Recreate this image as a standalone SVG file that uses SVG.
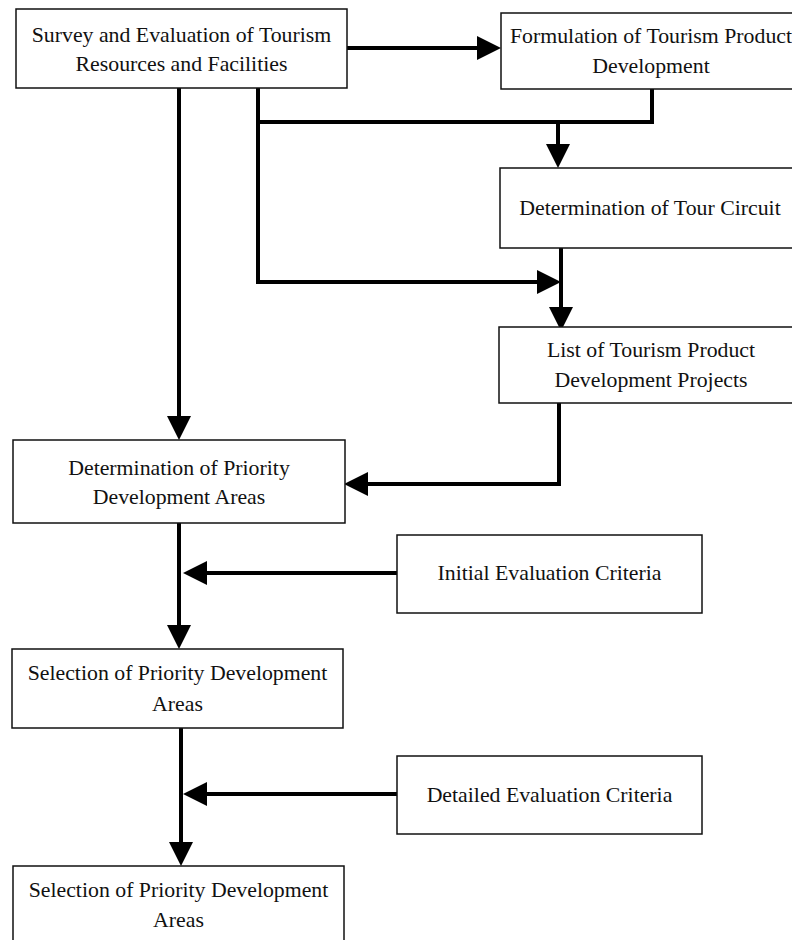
<svg xmlns="http://www.w3.org/2000/svg" width="792" height="940" viewBox="0 0 792 940">
<style>
.box{fill:#fff;stroke:#111;stroke-width:1.5}
.t{font-family:"Liberation Serif","Times New Roman",serif;font-size:21.8px;fill:#111;text-anchor:middle}
.c{fill:none;stroke:#000;stroke-width:4}
.ah{fill:#000}
</style>
<defs>
<marker id="arr" markerUnits="userSpaceOnUse" markerWidth="24" markerHeight="24" refX="0" refY="12" orient="auto" viewBox="0 0 24 24">
<path d="M0,0 L24,12 L0,24 Z" class="ah"/>
</marker>
</defs>
<rect width="792" height="940" fill="#fff"/>
<g id="connectors">
<path class="c" d="M347,48 H477" marker-end="url(#arr)"/>
<path class="c" d="M652,88 V122 H258"/>
<path class="c" d="M558,122 V144" marker-end="url(#arr)"/>
<path class="c" d="M258,88 V282 H537" marker-end="url(#arr)"/>
<path class="c" d="M561,247 V307" marker-end="url(#arr)"/>
<path class="c" d="M179,88 V416" marker-end="url(#arr)"/>
<path class="c" d="M559,403 V484 H368" marker-end="url(#arr)"/>
<path class="c" d="M179,523 V625" marker-end="url(#arr)"/>
<path class="c" d="M397,573 H207" marker-end="url(#arr)"/>
<path class="c" d="M181,728 V842" marker-end="url(#arr)"/>
<path class="c" d="M397,794 H207" marker-end="url(#arr)"/>
</g>
<g id="survey">
<rect class="box" x="16" y="9" width="331" height="79"/>
<text class="t" x="181.5" y="42">Survey and Evaluation of Tourism</text>
<text class="t" x="181.5" y="71">Resources and Facilities</text>
</g>
<g id="formulation">
<rect class="box" x="501" y="13" width="300" height="76"/>
<text class="t" x="651" y="43">Formulation of Tourism Product</text>
<text class="t" x="651" y="73">Development</text>
</g>
<g id="tour-circuit">
<rect class="box" x="500" y="168" width="300" height="80"/>
<text class="t" x="650" y="215">Determination of Tour Circuit</text>
</g>
<g id="projects">
<rect class="box" x="499" y="327" width="300" height="76"/>
<text class="t" x="651" y="357">List of Tourism Product</text>
<text class="t" x="651" y="387">Development Projects</text>
</g>
<g id="determination">
<rect class="box" x="13" y="440" width="332" height="83"/>
<text class="t" x="179" y="475">Determination of Priority</text>
<text class="t" x="179" y="504">Development Areas</text>
</g>
<g id="initial-criteria">
<rect class="box" x="397" y="535" width="305" height="78"/>
<text class="t" x="549.5" y="580">Initial Evaluation Criteria</text>
</g>
<g id="selection1">
<rect class="box" x="12" y="649" width="331" height="79"/>
<text class="t" x="177.5" y="680">Selection of Priority Development</text>
<text class="t" x="177.5" y="711">Areas</text>
</g>
<g id="detailed-criteria">
<rect class="box" x="397" y="756" width="305" height="78"/>
<text class="t" x="549.5" y="802">Detailed Evaluation Criteria</text>
</g>
<g id="selection2">
<rect class="box" x="13" y="866" width="331" height="90"/>
<text class="t" x="178.5" y="897">Selection of Priority Development</text>
<text class="t" x="178.5" y="927">Areas</text>
</g>
</svg>
